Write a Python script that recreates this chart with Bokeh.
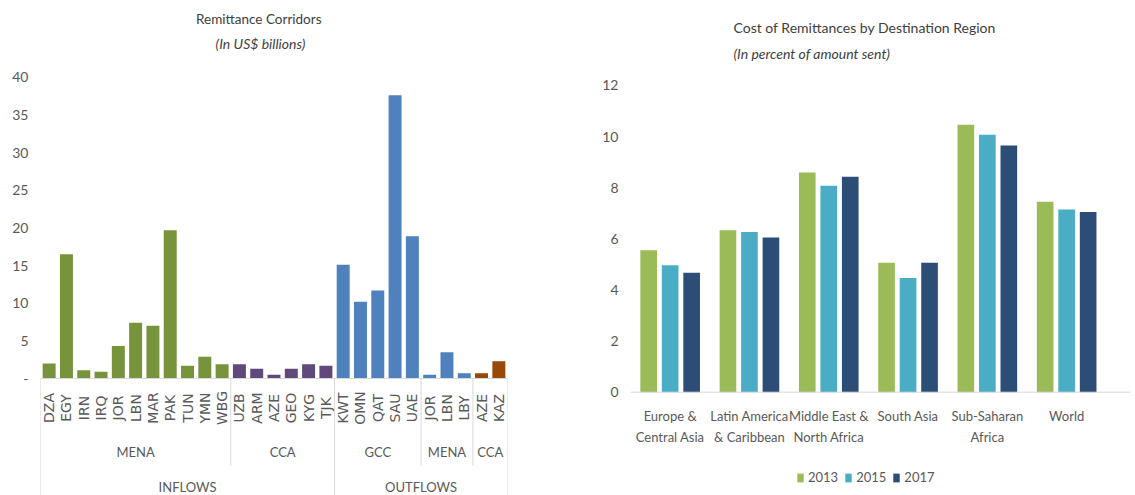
import numpy as np
from bokeh.plotting import figure
from bokeh.models import ColumnDataSource, Range1d, FixedTicker, Span, Legend
from bokeh.layouts import row
from bokeh.embed import file_html
from bokeh.resources import INLINE
from bokeh.core.properties import value
from bokeh.transform import dodge

# ---------------- data: left chart ----------------
codes = ["DZA", "EGY", "IRN", "IRQ", "JOR", "LBN", "MAR", "PAK", "TUN", "YMN", "WBG",
         "UZB", "ARM", "AZE", "GEO", "KYG", "TJK",
         "KWT", "OMN", "QAT", "SAU", "UAE",
         "JOR", "LBN", "LBY",
         "AZE", "KAZ"]
corridor_values = [2.0, 16.5, 1.1, 0.9, 4.3, 7.4, 7.0, 19.7, 1.7, 2.9, 1.9,
                   1.9, 1.3, 0.5, 1.3, 1.9, 1.7,
                   15.1, 10.2, 11.7, 37.6, 18.9,
                   0.5, 3.5, 0.7,
                   0.7, 2.3]
corridor_regions = ["MENA"] * 11 + ["CCA"] * 6 + ["GCC"] * 5 + ["MENA"] * 3 + ["CCA"] * 2
corridor_flows = ["INFLOWS"] * 17 + ["OUTFLOWS"] * 10
corridor_ticks = [0, 5, 10, 15, 20, 25, 30, 35, 40]
left_title = "Remittance  Corridors"
left_subtitle = "(In US$ billions)"

# ---------------- data: right chart ----------------
cost_regions = ["Europe &\nCentral Asia", "Latin America\n& Caribbean", "Middle East &\nNorth Africa",
                "South Asia", "Sub-Saharan\nAfrica", "World"]
cost_years = ["2013", "2015", "2017"]
cost_2013 = [5.55, 6.34, 8.60, 5.06, 10.46, 7.45]
cost_2015 = [4.97, 6.27, 8.08, 4.47, 10.07, 7.15]
cost_2017 = [4.67, 6.05, 8.43, 5.06, 9.65, 7.05]
cost_ticks = [0, 2, 4, 6, 8, 10, 12]
right_title = "Cost of Remittances by Destination Region"
right_subtitle = "(In percent of amount sent)"

# ---------------- styles ----------------
FONT = "Lato"
WIDE = "DejaVu Sans"
TXT = "#595959"
TITLE_C = "#404040"
GRID_C = "#D9D9D9"
palette = {("INFLOWS", "MENA"): "#77933C", ("INFLOWS", "CCA"): "#604A7B",
           ("OUTFLOWS", "GCC"): "#4F81BD", ("OUTFLOWS", "MENA"): "#4F81BD",
           ("OUTFLOWS", "CCA"): "#984807"}
year_colors = ["#9BBB59", "#4BACC6", "#2C4D75"]


def runs(keys):
    out, start = [], 0
    for i in range(1, len(keys) + 1):
        if i == len(keys) or keys[i] != keys[start]:
            out.append((keys[start], start, i - 1))
            start = i
    return out


def style_yaxis(ax, standoff):
    ax.axis_line_color = None
    ax.major_tick_line_color = None
    ax.minor_tick_line_color = None
    ax.major_tick_out = 0
    ax.major_tick_in = 0
    ax.major_label_standoff = standoff
    ax.major_label_text_font = FONT
    ax.major_label_text_font_size = "14px"
    ax.major_label_text_color = TXT


# ---------------- left figure ----------------
n = len(codes)
FW1, FH = 467, 495
PX1 = 7.53                      # px per billion
ZERO1 = 378                     # zero line, px from top of figure
UX1 = FW1 / n                   # px per category


def ly(sy):                     # figure px (from top) -> data y
    return (ZERO1 - sy) / PX1


def lx(sx):                     # px from frame left -> data x
    return sx / UX1 - 0.5


colors = [palette[(f, r)] for f, r in zip(corridor_flows, corridor_regions)]
src = ColumnDataSource(dict(x=list(range(n)), v=corridor_values, c=colors, code=codes))

p1 = figure(frame_width=FW1, frame_height=FH, output_backend="svg", toolbar_location=None,
            x_range=Range1d(-0.5, n - 0.5), y_range=Range1d(ly(FH), ly(0)),
            x_axis_location=None, min_border_left=40, min_border_right=61,
            min_border_top=0, min_border_bottom=0)
p1.outline_line_color = None
p1.grid.visible = False
p1.yaxis.ticker = FixedTicker(ticks=corridor_ticks)
p1.yaxis.major_label_overrides = {0: "-"}
style_yaxis(p1.yaxis[0], 12)

p1.vbar(x="x", top="v", width=0.75, fill_color="c", line_color=None, source=src)
p1.add_layout(Span(location=0, dimension="width", line_color=GRID_C, line_width=1))

p1.text(x="x", y=ly(407.5), text="code", source=src, angle=np.pi / 2,
        text_align="center", text_baseline="middle", text_font=value(WIDE),
        text_font_size="14px", text_color=TXT)

mid = runs(list(zip(corridor_flows, corridor_regions)))
top = runs(corridor_flows)
mid_src = ColumnDataSource(dict(x=[(a + b) / 2 for _, a, b in mid], t=[k[1] for k, _, _ in mid]))
p1.text(x="x", y=ly(451), text="t", source=mid_src, text_align="center", text_baseline="middle",
        text_font=value(FONT), text_font_size="13px", text_color=TXT)
top_src = ColumnDataSource(dict(x=[(a + b) / 2 for _, a, b in top], t=[k for k, _, _ in top]))
p1.text(x="x", y=ly(486), text="t", source=top_src, text_align="center", text_baseline="middle",
        text_font=value(FONT), text_font_size="13px", text_color=TXT)

full_x = sorted(set([a - 0.5 for _, a, _ in top] + [n - 0.5]))
mid_x = [a - 0.5 for _, a, _ in mid if (a - 0.5) not in full_x]
p1.segment(x0=full_x, y0=0, x1=full_x, y1=ly(FH), line_color=GRID_C, line_width=1)
p1.segment(x0=mid_x, y0=0, x1=mid_x, y1=ly(465), line_color=GRID_C, line_width=1)

p1.text(x=[lx(220)], y=[ly(18)], text=[left_title], text_align="center", text_baseline="middle",
        text_font=value(FONT), text_font_size="13.5px", text_color=TITLE_C)
p1.text(x=[lx(220)], y=[ly(43)], text=[left_subtitle], text_align="center", text_baseline="middle",
        text_font=value(FONT), text_font_size="14px", text_font_style="italic", text_color=TITLE_C)

# ---------------- right figure ----------------
m = len(cost_regions)
FW2 = 500
UX2 = 79.3                      # px per region
PX2 = 25.56                     # px per percentage point
ZERO2 = 391.7


def ry(sy):
    return (ZERO2 - sy) / PX2


def rx(sx):
    return sx / UX2 - 0.5


src2 = ColumnDataSource(dict(x=list(range(m)), y2013=cost_2013, y2015=cost_2015, y2017=cost_2017))
p2 = figure(frame_width=FW2, frame_height=FH, output_backend="svg", toolbar_location=None,
            x_range=Range1d(rx(0), rx(FW2)), y_range=Range1d(ry(FH), ry(0)),
            x_axis_location=None, min_border_left=62, min_border_right=5,
            min_border_top=0, min_border_bottom=0)
p2.outline_line_color = None
p2.grid.visible = False
p2.yaxis.ticker = FixedTicker(ticks=cost_ticks)
style_yaxis(p2.yaxis[0], 12)
p2.add_layout(Span(location=0, dimension="width", line_color=GRID_C, line_width=1))

items = []
for off, col, yr, c in zip([-0.271, 0, 0.271], ["y2013", "y2015", "y2017"], cost_years, year_colors):
    r = p2.vbar(x=dodge("x", off), top=col, width=0.21, source=src2, fill_color=c, line_color=None)
    items.append((yr, [r]))

line1 = [s.split("\n")[0] for s in cost_regions]
line2 = [s.split("\n")[1] if "\n" in s else "" for s in cost_regions]
lab_src = ColumnDataSource(dict(x=list(range(m)), l1=line1, l2=line2))
p2.text(x="x", y=ry(415.7), text="l1", source=lab_src, text_align="center", text_baseline="middle",
        text_font=value(FONT), text_font_size="13px", text_color=TXT)
p2.text(x="x", y=ry(436.7), text="l2", source=lab_src, text_align="center", text_baseline="middle",
        text_font=value(FONT), text_font_size="13px", text_color=TXT)

p2.text(x=[rx(103)], y=[ry(27)], text=[right_title], text_align="left", text_baseline="middle",
        text_font=value(FONT), text_font_size="14px", text_color=TITLE_C)
p2.text(x=[rx(103)], y=[ry(53)], text=[right_subtitle], text_align="left", text_baseline="middle",
        text_font=value(FONT), text_font_size="14px", text_font_style="italic", text_color=TITLE_C)

leg = Legend(items=items, orientation="horizontal", location=(166, 10), border_line_color=None,
             glyph_width=8, glyph_height=11, label_standoff=4, spacing=6, padding=0, margin=0,
             label_text_font=FONT, label_text_font_size="13px", label_text_color=TXT,
             background_fill_alpha=0)
p2.add_layout(leg)

layout = row(p1, p2)
open("out.html", "w").write(file_html(layout, INLINE))
